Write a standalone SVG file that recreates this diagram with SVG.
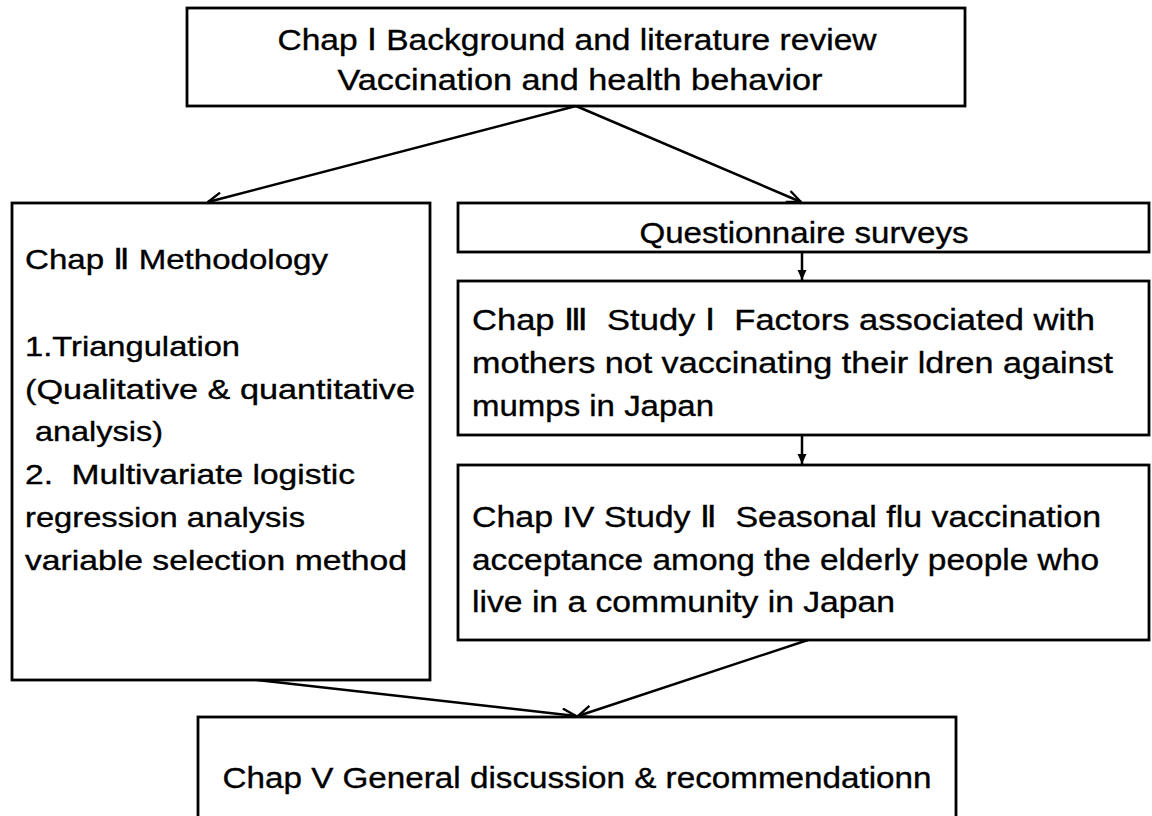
<svg xmlns="http://www.w3.org/2000/svg" width="1152" height="816" viewBox="0 0 1152 816">
<style>
.box{fill:#fff;stroke:#000;stroke-width:2.8}
.t{font-family:"Liberation Sans","DejaVu Sans","Noto Sans CJK JP",sans-serif;font-size:30px;fill:#000;white-space:pre;stroke:#000;stroke-width:0.35}
.ts{font-size:28px}
.c{text-anchor:middle}
.con{fill:none;stroke:#000;stroke-width:2.5}
</style>
<defs>
<marker id="open" viewBox="0 0 16 14" refX="15" refY="7" markerWidth="16" markerHeight="14" markerUnits="userSpaceOnUse" orient="auto">
<path d="M1,1 L15,7 L1,13" fill="none" stroke="#000" stroke-width="2.4"/>
</marker>
<marker id="solid" viewBox="0 0 10 12" refX="10" refY="6" markerWidth="10" markerHeight="12" markerUnits="userSpaceOnUse" orient="auto">
<path d="M0,1.5 L10,6 L0,10.5 Z" fill="#000"/>
</marker>
</defs>
<rect width="1152" height="816" fill="#fff"/>
<g id="connectors">
<line class="con" x1="576" y1="106" x2="208" y2="202" marker-end="url(#open)"/>
<line class="con" x1="576" y1="106" x2="801" y2="202" marker-end="url(#open)"/>
<line class="con" x1="802" y1="252" x2="802" y2="280" marker-end="url(#solid)"/>
<line class="con" x1="802" y1="435" x2="802" y2="464" marker-end="url(#solid)"/>
<line class="con" x1="257" y1="680" x2="576" y2="716" marker-end="url(#open)"/>
<line class="con" x1="808" y1="640" x2="578" y2="716" marker-end="url(#open)"/>
</g>
<g id="chap1">
<rect class="box" x="187" y="8" width="778" height="98"/>
<text class="t c" x="577" y="50" textLength="599" lengthAdjust="spacingAndGlyphs">Chap Ⅰ Background and literature review</text>
<text class="t c" x="580" y="90" textLength="485" lengthAdjust="spacingAndGlyphs">Vaccination and health behavior</text>
</g>
<g id="chap2">
<rect class="box" x="12" y="203" width="418" height="477"/>
<text class="t ts" x="25" y="269" textLength="303" lengthAdjust="spacingAndGlyphs">Chap Ⅱ Methodology</text>
<text class="t ts" x="25" y="356" textLength="215" lengthAdjust="spacingAndGlyphs">1.Triangulation</text>
<text class="t ts" x="25" y="399" textLength="390" lengthAdjust="spacingAndGlyphs">(Qualitative &amp; quantitative</text>
<text class="t ts" x="35" y="441" textLength="128" lengthAdjust="spacingAndGlyphs">analysis)</text>
<text class="t ts" x="25" y="484" textLength="330" lengthAdjust="spacingAndGlyphs">2.  Multivariate logistic</text>
<text class="t ts" x="25" y="527" textLength="280" lengthAdjust="spacingAndGlyphs">regression analysis</text>
<text class="t ts" x="25" y="570" textLength="382" lengthAdjust="spacingAndGlyphs">variable selection method</text>
</g>
<g id="questionnaire">
<rect class="box" x="458" y="203" width="691" height="49"/>
<text class="t c" x="804" y="243" textLength="329" lengthAdjust="spacingAndGlyphs">Questionnaire surveys</text>
</g>
<g id="chap3">
<rect class="box" x="458" y="281" width="691" height="154"/>
<text class="t" x="472" y="330" textLength="623" lengthAdjust="spacingAndGlyphs">Chap Ⅲ  Study Ⅰ  Factors associated with</text>
<text class="t" x="472" y="373" textLength="641" lengthAdjust="spacingAndGlyphs">mothers not vaccinating their ldren against</text>
<text class="t" x="472" y="416" textLength="242" lengthAdjust="spacingAndGlyphs">mumps in Japan</text>
</g>
<g id="chap4">
<rect class="box" x="458" y="465" width="691" height="175"/>
<text class="t" x="472" y="527" textLength="629" lengthAdjust="spacingAndGlyphs">Chap IV Study Ⅱ  Seasonal flu vaccination</text>
<text class="t" x="472" y="570" textLength="627" lengthAdjust="spacingAndGlyphs">acceptance among the elderly people who</text>
<text class="t" x="472" y="612" textLength="423" lengthAdjust="spacingAndGlyphs">live in a community in Japan</text>
</g>
<g id="chap5">
<rect class="box" x="198" y="717" width="758" height="120"/>
<text class="t c" x="577" y="788" textLength="709" lengthAdjust="spacingAndGlyphs">Chap V General discussion &amp; recommendationn</text>
</g>
</svg>
